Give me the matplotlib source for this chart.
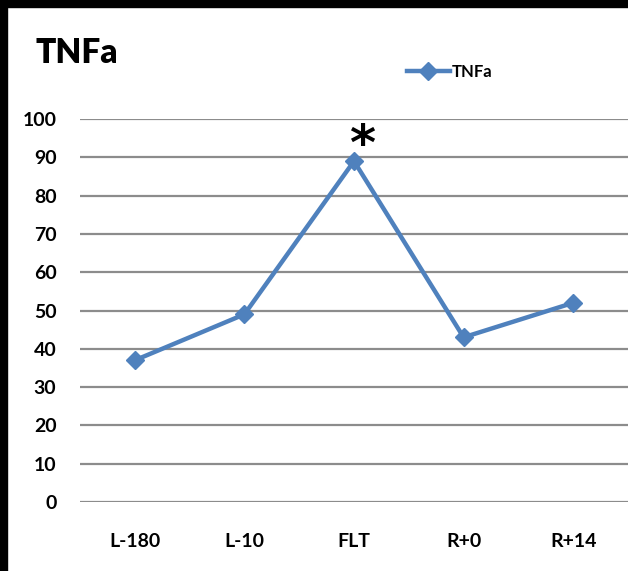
import matplotlib
matplotlib.use("Agg")
import matplotlib.pyplot as plt
from matplotlib.patches import Rectangle

# chart data
categories = ["L-180", "L-10", "FLT", "R+0", "R+14"]
tnfa = [37, 49, 89, 43, 52]
yticks = list(range(0, 101, 10))
star_index = 2
star_value = 96

plt.rcParams["font.family"] = ["Lato", "DejaVu Sans"]
blue = "#4F81BD"

fig = plt.figure(figsize=(6.28, 5.71), dpi=100)
fig.patch.set_facecolor("white")
ax = fig.add_axes([80 / 628, 69 / 571, 548 / 628, 383 / 571])

# gridlines
for y in yticks:
    ax.axhline(y, color="#8c8c8c", linewidth=1.6, zorder=1)

x = list(range(len(categories)))
ax.plot(x, tnfa, color=blue, linewidth=3.2, marker="D", markersize=9,
        markerfacecolor=blue, markeredgecolor=blue, label="TNFa", zorder=3)

# significance mark
ax.text(star_index + 0.07, star_value - 3, "*", ha="center", va="center",
        fontsize=36, fontweight="bold", color="black", family="DejaVu Sans")

ax.set_xlim(-0.5, len(categories) - 0.5)
ax.set_ylim(0, 100)
ax.set_xticks(x)
ax.set_xticklabels(categories, fontsize=14, fontweight="bold")
ax.set_yticks(yticks)
ax.set_yticklabels([str(v) for v in yticks], fontsize=14, fontweight="bold")
ax.tick_params(length=0, pad=17)
ax.tick_params(axis="x", pad=22)
for s in ax.spines.values():
    s.set_visible(False)

fig.text(36 / 628, 1 - 53 / 571, "TNFa", fontsize=24, fontweight="heavy",
         va="center", ha="left")

leg = ax.legend(loc="center left", bbox_to_anchor=(400 / 628, 1 - 72 / 571),
                bbox_transform=fig.transFigure, frameon=False,
                prop={"size": 12, "weight": "bold"}, handlelength=2.6,
                handletextpad=0.1, borderaxespad=0)

# black frame on top and left edges
fig.patches.append(Rectangle((0, 1 - 7 / 571), 1, 7 / 571, transform=fig.transFigure,
                             color="black", zorder=10))
fig.patches.append(Rectangle((0, 0), 7 / 628, 1, transform=fig.transFigure,
                             color="black", zorder=10))

fig.savefig("out.png", dpi=100)
